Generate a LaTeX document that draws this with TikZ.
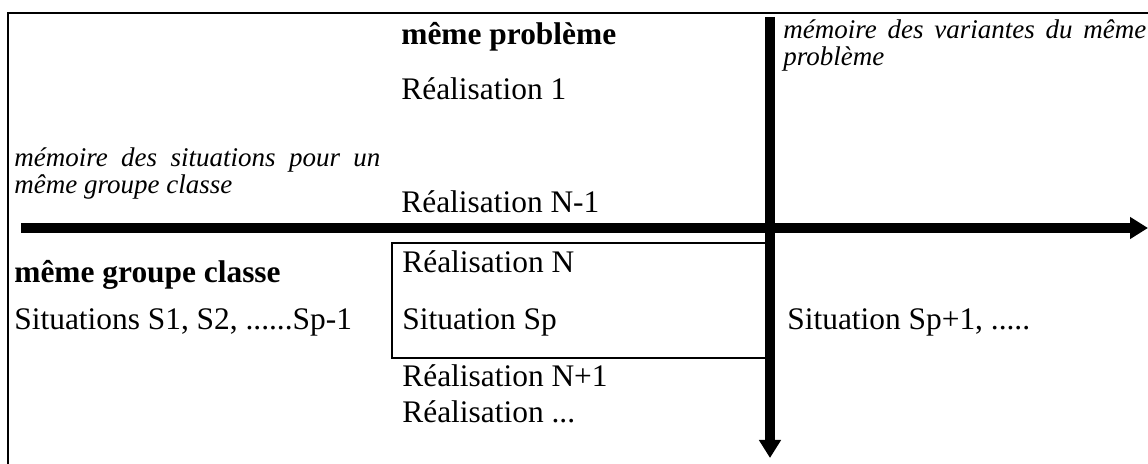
\documentclass[tikz,border=0pt]{standalone}
\usepackage{fontspec}
\setmainfont{Liberation Serif}
\usetikzlibrary{arrows.meta}

\begin{document}
\begin{tikzpicture}[
x=0.5pt, y=-0.5pt,
plaintxt/.style={
  anchor=base west,
  inner sep=0pt,
  font=\fontsize{15.7}{18}\selectfont
  },
heading/.style={
  plaintxt,
  font=\fontsize{15.7}{18}\selectfont\bfseries
  },
memo/.style={
  anchor=base west,
  inner sep=0pt,
  align=justify,
  font=\fontsize{13.5}{13.3}\selectfont\itshape
  },
timeline/.style={
  line width=5pt,
  ->
  },
>={Triangle[length=9pt,width=10.5pt]}
]
\useasboundingbox (0,0) rectangle (1148,464);
\clip (0,0) rectangle (1148,464);

% cadre
\draw[line width=1pt] (8,464) -- (8,13) -- (1148,13);

\node[draw, line width=0.7pt, inner sep=0pt,
  minimum width=191pt, minimum height=57.5pt] (current) at (583,300.5) {};

\coordinate (west) at (21,228);
\coordinate (east) at (1148,228);
\coordinate (north) at (770,17);
\coordinate (south) at (770,458);

\draw[timeline] (west) -- (east);
\draw[timeline] (north) -- (south);

\node[heading] (probleme) at (401,45) {même problème};
\node[plaintxt] (real1) at (401,100) {Réalisation 1};
\node[plaintxt] (realprev) at (401,213) {Réalisation N-1};
\node[plaintxt] (realN) at (402,273) {Réalisation N};
\node[plaintxt] (sitP) at (402,330) {Situation Sp};
\node[plaintxt] (realnext) at (402,387) {Réalisation N+1};
\node[plaintxt] (realdots) at (402,423) {Réalisation ...};

\node[heading] (groupe) at (14,283) {même groupe classe};
\node[plaintxt] (sitprev) at (14,330) {Situations S1, S2, ......Sp-1};
\node[plaintxt] (sitnext) at (787,330) {Situation Sp+1, .....};

\node[memo, text width=183pt] (memgroupe) at (14,167)
  {mémoire des situations pour un même groupe classe};
\node[memo, text width=181.5pt] (memprob) at (783,39)
  {mémoire des variantes du même problème};

\end{tikzpicture}
\end{document}
